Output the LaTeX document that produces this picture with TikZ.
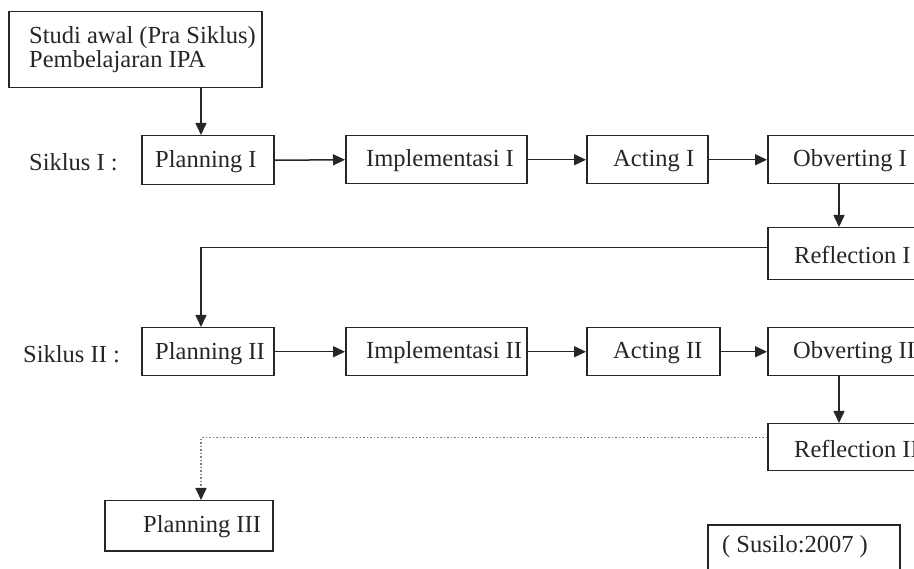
\documentclass[tikz,border=0pt]{standalone}
\usepackage{fontspec}
\setmainfont{Liberation Serif}
\usetikzlibrary{arrows.meta}
\begin{document}
\begin{tikzpicture}[x=1pt,y=-1pt,
  box/.style={draw=black!85, line width=1.5pt, rectangle, inner sep=0pt, anchor=north west},
  txt/.style={inner sep=0pt, text=black!85, font=\fontsize{24.5}{24}\selectfont},
  arr/.style={draw=black!85, line width=1.5pt, -{Triangle[length=12pt,width=11pt]}},
  dotarr/.style={draw=black!50, line width=1.5pt, dotted, -{Triangle[length=12pt,width=11pt,color=black!85]}}]
\useasboundingbox (0,0) rectangle (914,569);
\clip (0,0) rectangle (914,569);
\fill[white] (0,0) rectangle (914,569);
% boxes
\node[box, minimum width=253pt, minimum height=76pt] (st) at (8,11) {};
\node[box, minimum width=132pt, minimum height=49pt] (p1) at (141,135) {};
\node[box, minimum width=181pt, minimum height=48pt] (im1) at (345,135) {};
\node[box, minimum width=121pt, minimum height=48pt] (ac1) at (586,135) {};
\node[box, minimum width=200pt, minimum height=48pt] (ob1) at (767,135) {};
\node[box, minimum width=200pt, minimum height=52pt] (rf1) at (767,227) {};
\node[box, minimum width=132pt, minimum height=48pt] (p2) at (141,327) {};
\node[box, minimum width=181pt, minimum height=48pt] (im2) at (345,327) {};
\node[box, minimum width=133pt, minimum height=48pt] (ac2) at (586,327) {};
\node[box, minimum width=200pt, minimum height=48pt] (ob2) at (767,327) {};
\node[box, minimum width=200pt, minimum height=47pt] (rf2) at (767,423) {};
\node[box, minimum width=168pt, minimum height=50pt] (p3) at (104,500) {};
\node[box, minimum width=192pt, minimum height=70pt] (su) at (707,524) {};
% texts
\node[txt, anchor=west, align=left] (stt) at (29,50) {Studi awal (Pra Siklus)\\Pembelajaran IPA};
\node[txt, anchor=west] (s1) at (29,162) {Siklus I :};
\node[txt, anchor=west] (s2) at (23,354) {Siklus II :};
\node[txt, anchor=west] (p1t) at (155,162) {Planning I};
\node[txt, anchor=west] (im1t) at (366,161) {Implementasi I};
\node[txt, anchor=west] (ac1t) at (613,161) {Acting I};
\node[txt, anchor=west] (ob1t) at (793,161) {Obverting I};
\node[txt, anchor=west] (rf1t) at (794,255) {Reflection I};
\node[txt, anchor=west] (p2t) at (155,354) {Planning II};
\node[txt, anchor=west] (im2t) at (366,353) {Implementasi II};
\node[txt, anchor=west] (ac2t) at (613,353) {Acting II};
\node[txt, anchor=west] (ob2t) at (793,353) {Obverting II};
\node[txt, anchor=west] (rf2t) at (794,449) {Reflection II};
\node[txt, anchor=west] (p3t) at (143,527) {Planning III};
\node[txt, anchor=west] (sut) at (722,547) {( Susilo:2007 )};
% connectors
\draw[arr] (st.south -| 201,0) -- (p1.north -| 201,0);
\draw[arr] (p1.east) -- (im1.west);
\draw[arr] (im1.east) -- (ac1.west);
\draw[arr] (ac1.east) -- (ob1.west);
\draw[arr] (ob1.south -| 839,0) -- (rf1.north -| 839,0);
\draw[arr] ([yshift=6pt]rf1.west) -| (p2.north -| 201,0);
\draw[arr] (p2.east) -- (im2.west);
\draw[arr] (im2.east) -- (ac2.west);
\draw[arr] (ac2.east) -- (ob2.west);
\draw[arr] (ob2.south -| 839,0) -- (rf2.north -| 839,0);
\draw[dotarr] ([yshift=9.5pt]rf2.west) -| (p3.north -| 201,0);
\end{tikzpicture}
\end{document}
